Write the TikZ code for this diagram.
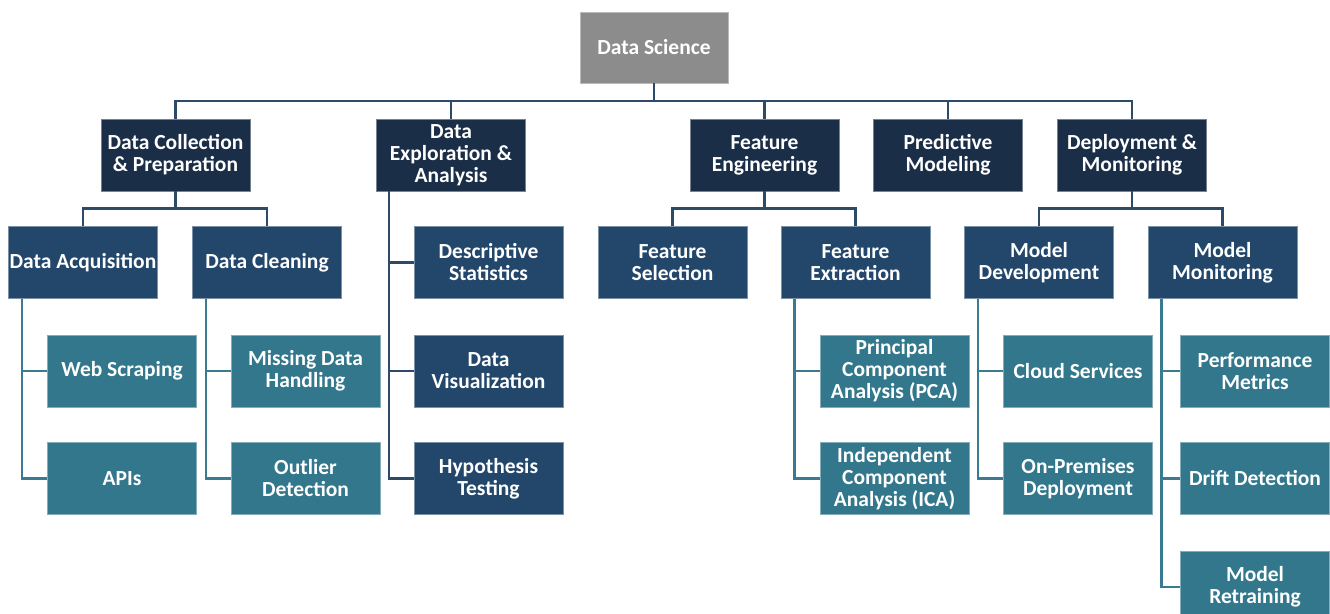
\documentclass[tikz,border=0pt]{standalone}
\usepackage{fontspec}
\setmainfont{Carlito}
\usetikzlibrary{calc}
\definecolor{rootc}{HTML}{8C8C8C}
\definecolor{lvone}{HTML}{1B2E48}
\definecolor{lvtwo}{HTML}{23476B}
\definecolor{lvthree}{HTML}{32778B}
\definecolor{linedark}{HTML}{2D4A69}
\definecolor{lineteal}{HTML}{3A7B91}
\begin{document}
\begin{tikzpicture}[x=1pt,y=-1pt,
  box/.style={minimum width=149pt, minimum height=72pt, inner sep=1pt, align=center, text=white,
    font=\bfseries\fontsize{21.5}{22}\selectfont, line width=0.8pt},
  rootbox/.style={box, fill=rootc, draw=rootc!60!white},
  onebox/.style={box, fill=lvone, draw=lvone!60!white},
  twobox/.style={box, fill=lvtwo, draw=lvtwo!60!white},
  threebox/.style={box, fill=lvthree, draw=lvthree!60!white},
  conn/.style={draw=linedark, line width=2.6pt},
  tconn/.style={draw=lineteal, line width=2.6pt}]
\useasboundingbox (0,0) rectangle (1330,613);
\clip (0,0) rectangle (1330,613);
\fill[white] (0,0) rectangle (1330,613);

% root
\node[rootbox, minimum width=148pt, minimum height=71pt] (root) at (654,47.5) {Data Science};

% level 1
\node[onebox] (dcp) at (175.5,155) {Data Collection\\\& Preparation};
\node[onebox] (dea) at (451,155) {Data\\Exploration \&\\Analysis};
\node[onebox] (fe) at (764.5,155) {Feature\\Engineering};
\node[onebox] (pmod) at (948,155) {Predictive\\Modeling};
\node[onebox] (dm) at (1132,155) {Deployment \&\\Monitoring};

% level 2
\node[twobox] (da) at (83,262.5) {Data Acquisition};
\node[twobox] (dc) at (267,262.5) {Data Cleaning};
\node[twobox] (ds) at (488.5,262.5) {Descriptive\\Statistics};
\node[twobox] (fs) at (672.5,262.5) {Feature\\Selection};
\node[twobox] (fx) at (855.5,262.5) {Feature\\Extraction};
\node[twobox] (md) at (1039,262.5) {Model\\Development};
\node[twobox] (mm) at (1222.5,262.5) {Model\\Monitoring};

% level 3
\node[threebox] (ws) at (122,371) {Web Scraping};
\node[threebox] (api) at (122,478.5) {APIs};
\node[threebox] (mdh) at (305.5,371) {Missing Data\\Handling};
\node[threebox] (od) at (305.5,478.5) {Outlier\\Detection};
\node[twobox] (dv) at (488.5,371) {Data\\Visualization};
\node[twobox] (ht) at (488.5,478.5) {Hypothesis\\Testing};
\node[threebox] (pca) at (894.5,371) {Principal\\Component\\Analysis (PCA)};
\node[threebox] (ica) at (894.5,478.5) {Independent\\Component\\Analysis (ICA)};
\node[threebox] (cs) at (1078,371) {Cloud Services};
\node[threebox] (opd) at (1078,478.5) {On-Premises\\Deployment};
\node[threebox] (perf) at (1255,371) {Performance\\Metrics};
\node[threebox] (dd) at (1255,478.5) {Drift Detection};
\node[threebox] (mr) at (1255,587) {Model\\Retraining};

% root to level 1
\foreach \c in {dcp,dea,fe,pmod,dm}
  \draw[conn] (root.south) -- ++(0,17.5) -| (\c.north);

% level 1 to level 2 (bus)
\foreach \p/\c in {dcp/da,dcp/dc,fe/fs,fe/fx,dm/md,dm/mm}
  \draw[conn] (\p.south) -- ++(0,17) -| (\c.north);

% DEA side line
\foreach \c in {ds,dv,ht}
  \draw[conn] ([xshift=13pt]dea.south west) |- (\c.west);

% level 2 to level 3 side lines
\foreach \p/\c in {da/ws,da/api,dc/mdh,dc/od,fx/pca,fx/ica,md/cs,md/opd,mm/perf,mm/dd,mm/mr}
  \draw[tconn] ([xshift=14pt]\p.south west) |- (\c.west);
\end{tikzpicture}
\end{document}
